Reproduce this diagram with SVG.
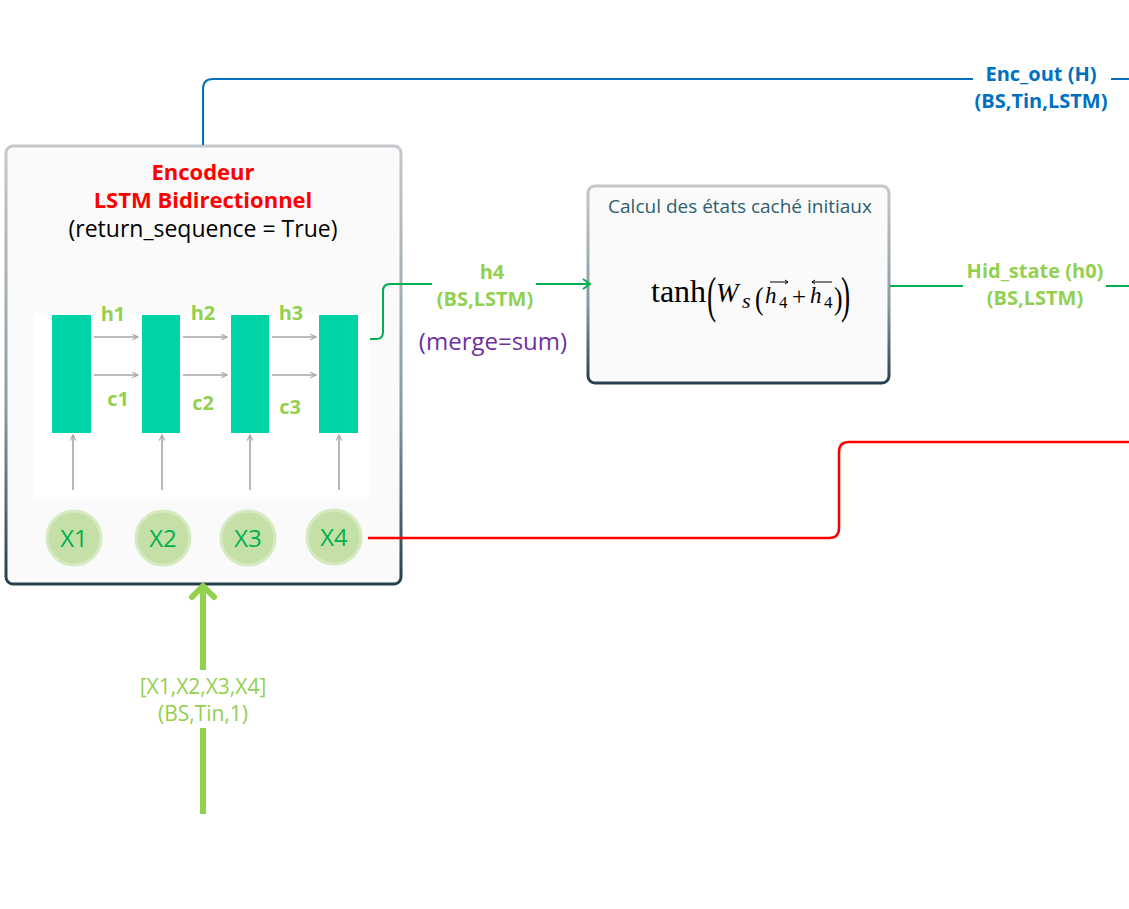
<svg xmlns="http://www.w3.org/2000/svg" width="1129" height="909" viewBox="0 0 1129 909">
<style>
  .sans { font-family: "Open Sans", "Liberation Sans", sans-serif; }
  .serif { font-family: "Liberation Serif", "Times New Roman", serif; }
  .lime { fill: #92D050; }
  .cell { fill: #00D4A6; }
  .garrow { stroke: #A6A6A6; stroke-width: 1.6; fill: none; }
  .xc { fill: #C5E0A6; stroke: #D6EAC2; stroke-width: 3; }
  .xt { fill: #00B050; font-size: 24px; }
  .box { fill: #FAFAFA; stroke: url(#bord); stroke-width: 3; }
</style>
<defs>
  <linearGradient id="bord" x1="0" y1="0" x2="0" y2="1">
    <stop offset="0" stop-color="#C4C8CC"/>
    <stop offset="0.6" stop-color="#8A9AA2"/>
    <stop offset="1" stop-color="#24404C"/>
  </linearGradient>
  <marker id="gh" viewBox="0 0 10 10" refX="9" refY="5" markerWidth="7" markerHeight="7" orient="auto" markerUnits="userSpaceOnUse">
    <path d="M1 1 L9 5 L1 9" fill="none" stroke="#A6A6A6" stroke-width="1.6"/>
  </marker>
  <marker id="grn" viewBox="0 0 12 12" refX="11" refY="6" markerWidth="12" markerHeight="12" orient="auto" markerUnits="userSpaceOnUse">
    <path d="M4 1 L11 6 L4 11" fill="none" stroke="#00B050" stroke-width="2"/>
  </marker>
</defs>
<rect width="1129" height="909" fill="#FFFFFF"/>

<g id="encodeur">
  <rect x="6" y="146" width="395" height="438" rx="7" class="box"/>
  <g class="sans" text-anchor="middle">
    <text x="203" y="180" fill="#FF0000" font-size="22" font-weight="bold">Encodeur</text>
    <text x="203" y="208" fill="#FF0000" font-size="22" font-weight="bold">LSTM Bidirectionnel</text>
    <text x="203" y="237" fill="#000000" font-size="23">(return_sequence = True)</text>
  </g>
  <rect x="33" y="313" width="337" height="186" fill="#FFFFFF"/>
  <rect x="52" y="315" width="39" height="118" class="cell"/>
  <rect x="142" y="315" width="38" height="118" class="cell"/>
  <rect x="231" y="315" width="38" height="118" class="cell"/>
  <rect x="319" y="315" width="39" height="118" class="cell"/>
  <g class="garrow" marker-end="url(#gh)">
    <path d="M94 337 H138"/>
    <path d="M183 337 H227"/>
    <path d="M272 337 H316"/>
    <path d="M94 375 H138"/>
    <path d="M183 375 H227"/>
    <path d="M272 375 H316"/>
    <path d="M73 490 V435"/>
    <path d="M162 490 V435"/>
    <path d="M250 490 V435"/>
    <path d="M339 490 V435"/>
  </g>
  <g class="sans lime" font-size="20" font-weight="bold" text-anchor="middle">
    <text x="113" y="321">h1</text>
    <text x="203" y="320">h2</text>
    <text x="291" y="320">h3</text>
    <text x="118" y="406">c1</text>
    <text x="203" y="410">c2</text>
    <text x="290" y="414">c3</text>
  </g>
  <g id="x1"><circle cx="74" cy="538" r="27" class="xc"/><text x="74" y="547" class="sans xt" text-anchor="middle">X1</text></g>
  <g id="x2"><circle cx="163" cy="538" r="27" class="xc"/><text x="163" y="547" class="sans xt" text-anchor="middle">X2</text></g>
  <g id="x3"><circle cx="248" cy="538" r="27" class="xc"/><text x="248" y="547" class="sans xt" text-anchor="middle">X3</text></g>
  <g id="x4"><circle cx="334" cy="537" r="27" class="xc"/><text x="334" y="546" class="sans xt" text-anchor="middle">X4</text></g>
</g>

<g id="calcul">
  <rect x="588" y="186" width="301" height="197" rx="7" class="box"/>
  <text x="740" y="213" class="sans" fill="#2E5E6E" font-size="19" text-anchor="middle">Calcul des états caché initiaux</text>
  <g class="serif" fill="#000000">
    <text x="651" y="302" font-size="32">tanh</text>
    <text transform="translate(707,312) scale(0.55,1)" font-size="50">(</text>
    <text x="716" y="302" font-size="27" font-style="italic">W</text>
    <text x="742" y="308" font-size="22" font-style="italic">s</text>
    <text transform="translate(755,309) scale(0.8,1)" font-size="32">(</text>
    <text x="765" y="303" font-size="23" font-style="italic">h</text>
    <text x="779" y="308" font-size="17">4</text>
    <text x="792" y="305" font-size="25">+</text>
    <text x="810" y="303" font-size="23" font-style="italic">h</text>
    <text x="824" y="308" font-size="17">4</text>
    <text transform="translate(834,309) scale(0.8,1)" font-size="32">)</text>
    <text transform="translate(841,312) scale(0.55,1)" font-size="50">)</text>
  </g>
  <g fill="none" stroke="#000000" stroke-width="1">
    <path d="M770 282 H788 M785 280 L788 282 L785 284"/>
    <path d="M812 282 H832 M815 280 L812 282 L815 284"/>
  </g>
</g>

<g id="connectors">
  <path d="M203 145 V89 Q203 79 213 79 H973" fill="none" stroke="#0070C0" stroke-width="2"/>
  <path d="M1111 79 H1129" fill="none" stroke="#0070C0" stroke-width="2"/>
  <path d="M370 339 H376 Q383 339 383 332 V291 Q383 284 390 284 H432" fill="none" stroke="#00B050" stroke-width="2"/>
  <path d="M536 284 H590" fill="none" stroke="#00B050" stroke-width="2" marker-end="url(#grn)"/>
  <path d="M890 286 H963" fill="none" stroke="#00B050" stroke-width="2"/>
  <path d="M1106 286 H1129" fill="none" stroke="#00B050" stroke-width="2"/>
  <path d="M368 538 H829 Q839 538 839 528 V452 Q839 442 849 442 H1129" fill="none" stroke="#FF0000" stroke-width="2.5"/>
  <path d="M203 670 V586" fill="none" stroke="#92D050" stroke-width="6"/>
  <path d="M192 597 L203 586 L214 597" fill="none" stroke="#92D050" stroke-width="6" stroke-linecap="round" stroke-linejoin="round"/>
  <path d="M203 728 V814" fill="none" stroke="#92D050" stroke-width="6"/>
  <g class="sans lime" font-size="21" text-anchor="middle">
    <text x="203" y="694">[X1,X2,X3,X4]</text>
    <text x="203" y="721">(BS,Tin,1)</text>
  </g>
  <g class="sans" fill="#0070C0" font-size="20" font-weight="bold" text-anchor="middle">
    <text x="1041" y="81">Enc_out (H)</text>
    <text x="1041" y="108">(BS,Tin,LSTM)</text>
  </g>
  <g class="sans lime" font-size="20" font-weight="bold" text-anchor="middle">
    <text x="492" y="279">h4</text>
    <text x="485" y="306">(BS,LSTM)</text>
    <text x="1035" y="278">Hid_state (h0)</text>
    <text x="1035" y="305">(BS,LSTM)</text>
  </g>
  <text x="493" y="350" class="sans" fill="#7030A0" font-size="24" text-anchor="middle">(merge=sum)</text>
</g>
</svg>
